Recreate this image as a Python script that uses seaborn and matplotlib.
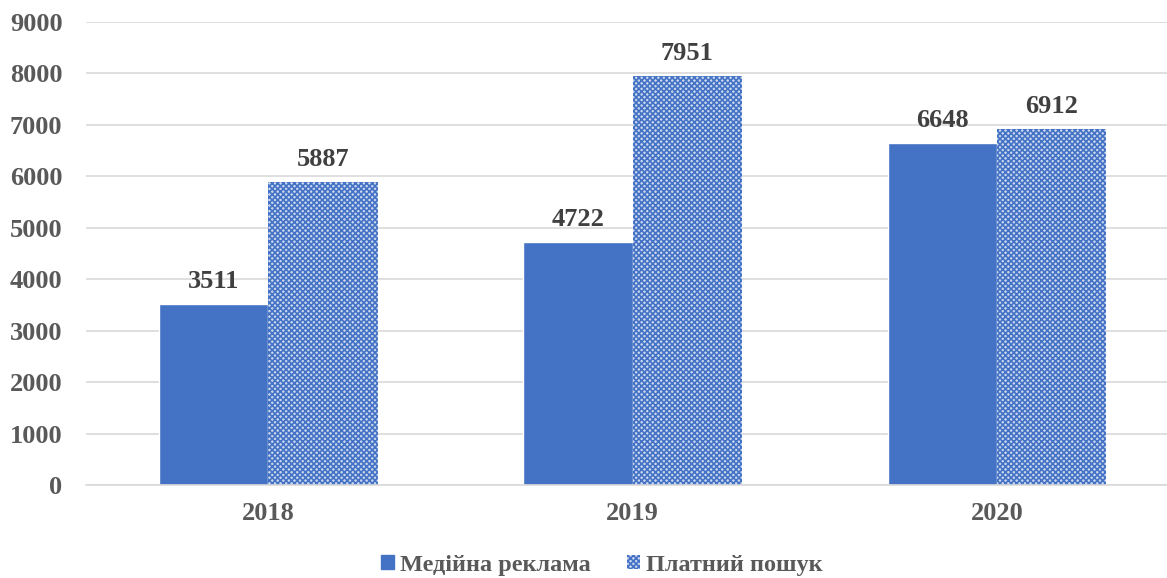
import matplotlib
matplotlib.use("Agg")
import matplotlib.pyplot as plt
import seaborn as sns
import pandas as pd
from matplotlib.patches import Patch

years = ["2018", "2019", "2020"]
series_names = ["Медійна реклама", "Платний пошук"]
media_values = [3511, 4722, 6648]
search_values = [5887, 7951, 6912]
yticks = [0, 1000, 2000, 3000, 4000, 5000, 6000, 7000, 8000, 9000]

df = pd.DataFrame({
    "year": years * 2,
    "series": [series_names[0]] * 3 + [series_names[1]] * 3,
    "value": media_values + search_values,
})

sns.set_theme(style="white")
plt.rcParams["font.family"] = ["Liberation Serif", "DejaVu Serif"]
plt.rcParams["hatch.linewidth"] = 1.2
plt.rcParams["hatch.color"] = "#4472C4"

blue = "#4472C4"
fig = plt.figure(figsize=(11.67, 5.78), dpi=100)
ax = fig.add_axes([86 / 1167, 1 - 485 / 578, (1167 - 86) / 1167, (485 - 22) / 578])

sns.barplot(data=df, x="year", y="value", hue="series", order=years,
            hue_order=series_names, palette=[blue, "white"], width=0.6,
            gap=0, ax=ax, legend=False, saturation=1)

patches = [p for p in ax.patches]
for p in patches[3:6]:
    p.set_facecolor("#c9d6ef")
    p.set_hatch("xxxxxx")
    p.set_edgecolor(blue)
    p.set_linewidth(0)

for cont in ax.containers:
    ax.bar_label(cont, fmt="%d", padding=8, fontsize=19, fontweight="bold", color="#404040")

ax.set_ylim(0, 9000)
ax.set_xlim(-0.5, (1167 - 268) / 364.5)
ax.set_yticks(yticks)
ax.yaxis.grid(True, color="#d9d9d9", linewidth=1.2)
ax.set_axisbelow(True)
for s in ["top", "right", "left"]:
    ax.spines[s].set_visible(False)
ax.spines["bottom"].set_color("#d9d9d9")
ax.spines["bottom"].set_linewidth(1.2)
ax.set_xlabel("")
ax.set_ylabel("")
ax.tick_params(axis="both", length=0, labelsize=19, labelcolor="#595959")
ax.tick_params(axis="y", pad=17)
ax.tick_params(axis="x", pad=12)
for lab in ax.get_xticklabels() + ax.get_yticklabels():
    lab.set_fontweight("bold")

handles = [Patch(facecolor=blue, edgecolor=blue),
           Patch(facecolor="#c9d6ef", edgecolor=blue, hatch="xxxxxx", linewidth=0)]
leg = fig.legend(handles, series_names, loc="center", bbox_to_anchor=(602 / 1167, 1 - 565 / 578),
                 ncol=2, frameon=False, handlelength=0.53, handleheight=0.53,
                 handletextpad=0.25, columnspacing=1.5,
                 prop={"weight": "bold", "size": 17.5})
for t in leg.get_texts():
    t.set_color("#595959")

fig.savefig("out.png", dpi=100)
